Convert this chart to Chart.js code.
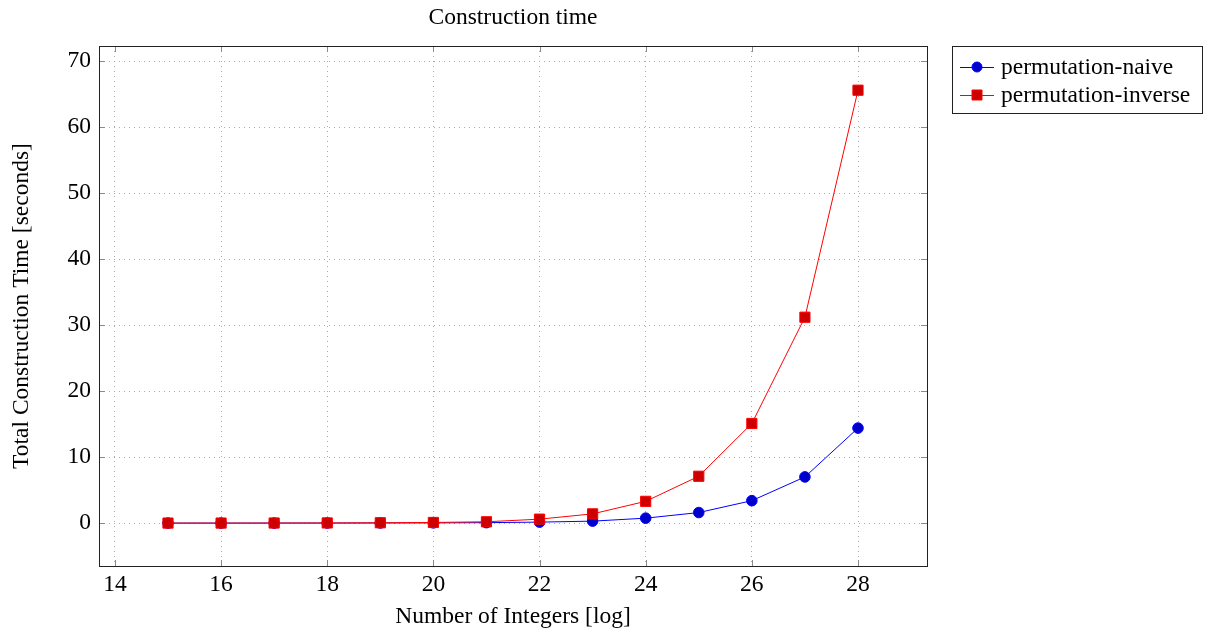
<!DOCTYPE html>
<html>
<head>
<meta charset="utf-8">
<script src="https://cdn.jsdelivr.net/npm/chart.js@4"></script>
<style>
  html, body { margin: 0; padding: 0; background: #fff; }
  #wrap { width: 1206px; height: 634px; }
</style>
</head>
<body>
<div id="wrap"><canvas id="myChart" width="1206" height="634"></canvas></div>
<script>
const sizes = [15, 16, 17, 18, 19, 20, 21, 22, 23, 24, 25, 26, 27, 28];
const naiveTimes = [0.001, 0.002, 0.004, 0.008, 0.017, 0.035, 0.07, 0.15, 0.3, 0.75, 1.6, 3.4, 7.0, 14.4];
const inverseTimes = [0.003, 0.006, 0.012, 0.025, 0.05, 0.1, 0.2, 0.6, 1.4, 3.3, 7.1, 15.1, 31.2, 65.6];
const xTicks = [14, 16, 18, 20, 22, 24, 26, 28];
const yTicks = [0, 10, 20, 30, 40, 50, 60, 70];

const serif = "'Liberation Serif', 'DejaVu Serif', serif";
const fontSize = 23.5;

// frame, inward ticks, title and boxed legend, drawn like pgfplots
const pgfFrame = {
    id: 'pgfFrame',
    afterDraw(chart) {
        const { ctx, chartArea: a, scales } = chart;
        ctx.save();
        ctx.strokeStyle = '#8a8a8a';
        ctx.lineWidth = 1;
        ctx.beginPath();
        xTicks.forEach(v => {
            const x = Math.round(scales.x.getPixelForValue(v)) + 0.5;
            ctx.moveTo(x, a.bottom); ctx.lineTo(x, a.bottom - 6);
            ctx.moveTo(x, a.top); ctx.lineTo(x, a.top + 6);
        });
        yTicks.forEach(v => {
            const y = Math.round(scales.y.getPixelForValue(v)) + 0.5;
            ctx.moveTo(a.left, y); ctx.lineTo(a.left + 6, y);
            ctx.moveTo(a.right, y); ctx.lineTo(a.right - 6, y);
        });
        ctx.stroke();
        ctx.strokeStyle = '#222';
        ctx.strokeRect(Math.round(a.left) + 0.5, Math.round(a.top) + 0.5,
            Math.round(a.right - a.left), Math.round(a.bottom - a.top));

        ctx.fillStyle = '#000';
        ctx.font = fontSize + 'px ' + serif;
        ctx.textAlign = 'center';
        ctx.textBaseline = 'middle';
        ctx.fillText('Construction time', (a.left + a.right) / 2, 18);

        // legend
        const lx = 952, ly = 46, lw = 250, lh = 67;
        ctx.strokeRect(lx + 0.5, ly + 0.5, lw, lh);
        ctx.textAlign = 'left';
        chart.data.datasets.slice().sort((p, q) => q.order - p.order).forEach((ds, i) => {
            const y = ly + 21 + i * 28;
            ctx.strokeStyle = ds.borderColor;
            ctx.lineWidth = 1;
            ctx.beginPath();
            ctx.moveTo(lx + 8, y + 0.5); ctx.lineTo(lx + 42, y + 0.5);
            ctx.stroke();
            ctx.fillStyle = ds.pointBackgroundColor;
            ctx.beginPath();
            if (ds.pointStyle === 'rect') ctx.rect(lx + 20, y - 5, 10, 10);
            else ctx.arc(lx + 25, y, 5, 0, Math.PI * 2);
            ctx.fill();
            ctx.stroke();
            ctx.fillStyle = '#000';
            ctx.fillText(ds.label, lx + 49, y + 1);
        });
        ctx.restore();
    }
};

new Chart(document.getElementById('myChart').getContext('2d'), {
    type: 'line',
    data: {
        datasets: [{
            label: 'permutation-naive',
            data: sizes.map((s, i) => ({ x: s, y: naiveTimes[i] })),
            borderColor: '#0000ff',
            backgroundColor: '#0000cc',
            pointBackgroundColor: '#0000cc',
            pointBorderColor: '#0000ff',
            pointStyle: 'circle',
            pointRadius: 5.3,
            pointBorderWidth: 1,
            borderWidth: 1,
            tension: 0,
            order: 1,
        }, {
            label: 'permutation-inverse',
            data: sizes.map((s, i) => ({ x: s, y: inverseTimes[i] })),
            borderColor: '#ff0000',
            backgroundColor: '#cc0000',
            pointBackgroundColor: '#cc0000',
            pointBorderColor: '#ff0000',
            pointStyle: 'rect',
            pointRadius: 7.2,
            pointBorderWidth: 1,
            borderWidth: 1,
            tension: 0,
            order: 0,
        }]
    },
    options: {
        responsive: false,
        animation: false,
        layout: { padding: { left: 0, top: 46, right: 279, bottom: 0 } },
        scales: {
            x: {
                type: 'linear',
                min: 13.7,
                max: 29.3,
                afterBuildTicks: s => { s.ticks = xTicks.map(v => ({ value: v })); },
                afterFit: s => { s.height = 68; },
                grid: { color: '#aaa', drawTicks: false },
                border: { display: false, dash: [1, 4] },
                ticks: { color: '#000', padding: 5, font: { family: serif, size: fontSize } },
                title: {
                    display: true,
                    text: 'Number of Integers [log]',
                    color: '#000',
                    font: { family: serif, size: fontSize },
                    padding: { top: 0, bottom: 3 },
                },
            },
            y: {
                min: -6.5,
                max: 72.3,
                afterBuildTicks: s => { s.ticks = yTicks.map(v => ({ value: v })); },
                afterFit: s => { s.width = 99; },
                grid: { color: '#aaa', drawTicks: false },
                border: { display: false, dash: [1, 4] },
                ticks: { color: '#000', padding: 8, font: { family: serif, size: fontSize } },
                title: {
                    display: true,
                    text: 'Total Construction Time [seconds]',
                    color: '#000',
                    font: { family: serif, size: fontSize },
                    padding: { top: 8, bottom: 0 },
                },
            }
        },
        plugins: {
            legend: { display: false },
            tooltip: { enabled: false },
        }
    },
    plugins: [pgfFrame]
});
</script>
</body>
</html>
